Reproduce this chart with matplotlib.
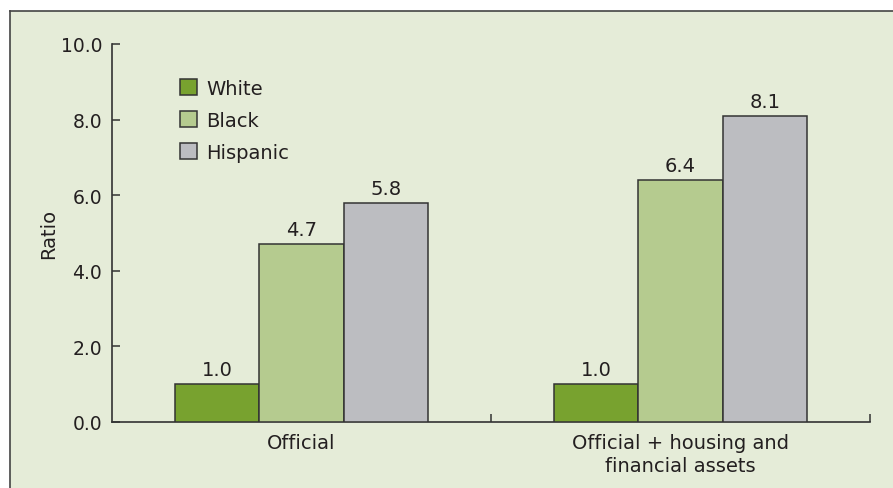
import matplotlib
matplotlib.use('Agg')
import numpy as np
import matplotlib.pyplot as plt
from matplotlib.patches import Rectangle

# data
categories = ['Official', 'Official + housing and\nfinancial assets']
series = ['White', 'Black', 'Hispanic']
white = [1.0, 1.0]
black = [4.7, 6.4]
hispanic = [5.8, 8.1]
colors = ['#78A22F', '#B5CB8F', '#BCBDC1']
yticks = [0, 2, 4, 6, 8, 10]

plt.rcParams['font.family'] = ['DejaVu Sans']
ink = '#231F20'
fs = 14

fig = plt.figure(figsize=(8.93, 4.89), dpi=100)
fig.patch.set_facecolor('white')
W, H = 893, 489

# panel background with top and left rule, drawn on a back layer
bg = fig.add_axes([0, 0, 1, 1], zorder=-1)
bg.set_xlim(0, W)
bg.set_ylim(H, 0)
bg.axis('off')
bg.add_patch(Rectangle((10, 12), W, H, facecolor='#E5ECD8', edgecolor='none'))
bg.plot([10, W], [12, 12], color='#444444', lw=1.2)
bg.plot([10, 10], [12, H], color='#444444', lw=1.2)

ax = fig.add_axes([112 / W, (H - 423) / H, (870 - 112) / W, (423 - 45) / H])
ax.set_facecolor('none')

x = np.arange(len(categories))
width = 0.222
for i, (name, vals) in enumerate(zip(series, [white, black, hispanic])):
    pos = x + (i - 1) * width
    ax.bar(pos, vals, width, color=colors[i], edgecolor='#333333', linewidth=1.1,
           label=name, zorder=3)
    for px, v in zip(pos, vals):
        ax.text(px, v + 0.13, f'{v:.1f}', ha='center', va='bottom', fontsize=fs, color=ink)

ax.set_xlim(-0.5, 1.5)
ax.set_ylim(0, 10)
ax.set_yticks(yticks)
ax.set_yticklabels([f'{t:.1f}' for t in yticks], fontsize=13.5, color=ink)
ax.set_xticks(x)
ax.set_xticklabels(categories, fontsize=fs, color=ink, linespacing=1.25)
ax.tick_params(axis='x', length=0, pad=8)
ax.set_xticks([0.5, 1.5], minor=True)
ax.tick_params(axis='x', which='minor', direction='in', length=6, color='#333333', width=1.1)
ax.tick_params(axis='y', direction='in', length=6, color='#333333', width=1.1, pad=7)
ax.set_ylabel('Ratio', fontsize=fs, color=ink, labelpad=2)

for s in ['top', 'right']:
    ax.spines[s].set_visible(False)
for s in ['left', 'bottom']:
    ax.spines[s].set_color('#333333')
    ax.spines[s].set_linewidth(1.2)

ax.legend(loc='upper left', bbox_to_anchor=((180 - 112) / 758, (423 - 80) / 378),
          frameon=False, fontsize=fs, borderpad=0, borderaxespad=0,
          handlelength=0.88, handleheight=0.88, handletextpad=0.45, labelspacing=0.66,
          labelcolor=ink)

fig.savefig('out.png', dpi=100)
